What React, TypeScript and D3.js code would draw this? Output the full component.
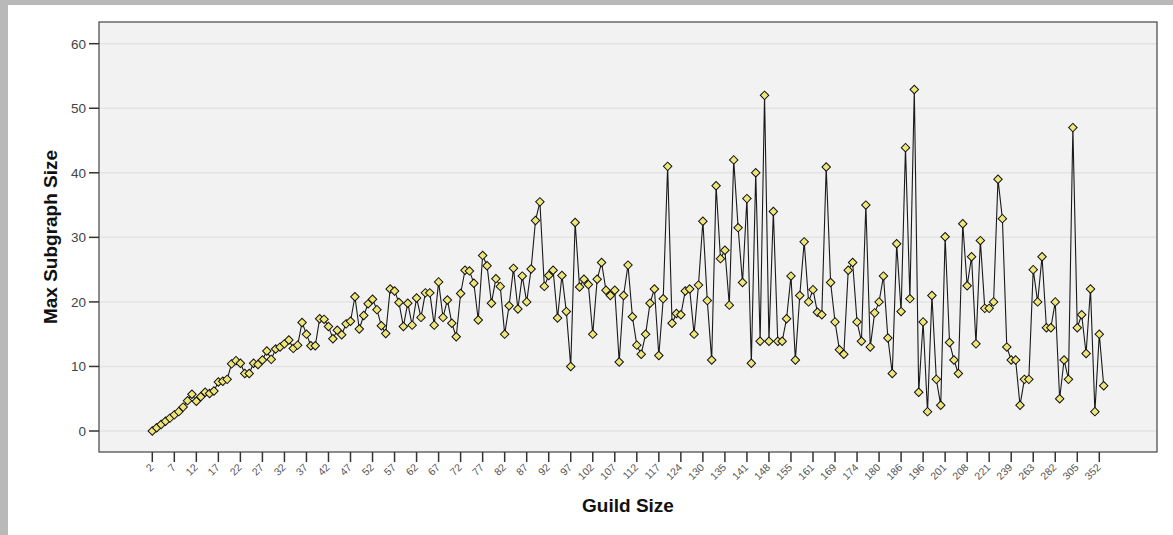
import React from "react";
import * as d3 from "d3";

// Guild size categories (x axis, ordinal)
const guildSizes: number[] = [
  2, 3, 4, 5, 6, 7, 8, 9, 10, 11, 12, 13, 14, 15, 16, 17, 18, 19, 20, 21,
  22, 23, 24, 25, 26, 27, 28, 29, 30, 31, 32, 33, 34, 35, 36, 37, 38, 39, 40, 41,
  42, 43, 44, 45, 46, 47, 48, 49, 50, 51, 52, 53, 54, 55, 56, 57, 58, 59, 60, 61,
  62, 63, 64, 65, 66, 67, 68, 69, 70, 71, 72, 73, 74, 75, 76, 77, 78, 79, 80, 81,
  82, 83, 84, 85, 86, 87, 88, 89, 90, 91, 92, 93, 94, 95, 96, 97, 98, 99, 100, 101,
  102, 103, 104, 105, 106, 107, 108, 109, 110, 111, 112, 113, 114, 115, 116, 117,
  118, 119, 121, 122, 124, 125, 126, 127, 129, 130, 131, 132, 133, 134, 135,
  136, 137, 138, 140, 141, 142, 143, 145, 146, 148, 149, 150, 152, 153, 155,
  156, 157, 158, 160, 161, 162, 164, 166, 167, 169, 170, 171, 172, 173, 174,
  175, 176, 177, 179, 180, 181, 182, 183, 185, 186, 188, 190, 192, 194, 196,
  197, 198, 199, 200, 201, 202, 204, 205, 206, 208, 210, 213, 216, 218, 221,
  225, 228, 232, 235, 239, 243, 248, 253, 258, 263, 266, 270, 274, 278, 282,
  286, 291, 295, 300, 305, 311, 318, 325, 336, 352, 421,
];

// Max subgraph size per guild size
const maxSubgraphSize: number[] = [
  0, 0.5, 1, 1.5, 2, 2.5, 3, 3.7, 4.7, 5.7,
  4.6, 5.3, 6, 5.8, 6.2, 7.6, 7.7, 8, 10.4, 10.9,
  10.5, 8.9, 8.9, 10.5, 10.3, 11, 12.4, 11.1, 12.7, 13,
  13.5, 14.1, 12.8, 13.3, 16.8, 15, 13.2, 13.2, 17.4, 17.3,
  16.2, 14.3, 15.6, 14.9, 16.6, 17, 20.8, 15.8, 17.9, 19.7,
  20.4, 18.8, 16.3, 15.1, 22, 21.7, 19.9, 16.2, 19.8, 16.4,
  20.6, 17.6, 21.4, 21.4, 16.4, 23.1, 17.6, 20.3, 16.7, 14.6,
  21.3, 24.9, 24.8, 22.9, 17.2, 27.2, 25.6, 19.8, 23.6, 22.4,
  15, 19.4, 25.2, 18.9, 24, 20, 25.1, 32.6, 35.5, 22.4,
  24.1, 24.9, 17.5, 24.1, 18.5, 10, 32.3, 22.3, 23.5, 22.7,
  15, 23.5, 26.1, 21.8, 21, 21.8, 10.7, 21, 25.7, 17.7,
  13.3, 11.9, 15, 19.8, 22, 11.7, 20.5, 41, 16.7, 18.2,
  18, 21.7, 22, 15, 22.6, 32.5, 20.2, 11, 38, 26.7,
  28, 19.5, 42, 31.5, 23, 36, 10.5, 40, 13.9, 52,
  13.9, 34, 13.9, 13.9, 17.4, 24, 11, 21, 29.3, 20,
  21.9, 18.4, 18, 40.9, 23, 16.9, 12.6, 11.9, 24.9, 26.1,
  16.9, 13.9, 35, 13, 18.3, 20, 24, 14.4, 8.9, 29,
  18.5, 43.9, 20.5, 52.9, 6, 16.9, 3, 21, 8, 4,
  30.1, 13.7, 11, 8.9, 32.1, 22.5, 27, 13.5, 29.5, 19,
  19, 20, 39, 32.9, 13, 11, 11, 4, 8, 8,
  25, 20, 27, 16, 16, 20, 5, 11, 8, 47,
  16, 18, 12, 22, 3, 15, 7,
];

const yTicks: number[] = [0, 10, 20, 30, 40, 50, 60];
const xTickEvery = 5;

const FONT = "'Liberation Sans', Arial, sans-serif";

export default function App() {
  const W = 1173;
  const H = 535;
  const plot = { left: 99, right: 1157, top: 22, bottom: 452 };

  const x = d3
    .scalePoint<number>()
    .domain(guildSizes)
    .range([plot.left, plot.right])
    .padding(12.1);

  const y = d3.scaleLinear().domain([0, 60]).range([431, 43.7]);

  const line = d3
    .line<number>()
    .x((_, i) => x(guildSizes[i]) as number)
    .y((d) => y(d));

  const diamond = d3.symbol(d3.symbolSquare, 36)() as string;

  const xTicks = guildSizes.filter((_, i) => i % xTickEvery === 0);

  return (
    <div style={{ position: "absolute", left: 0, top: 0 }}>
      <svg width={W} height={H} style={{ display: "block" }}>
        <rect x={0} y={0} width={W} height={H} fill="#b9b9b9" />
        <rect x={8} y={5} width={W - 8} height={H - 5} fill="#ffffff" />
        {/* plot background */}
        <rect
          x={plot.left}
          y={plot.top}
          width={plot.right - plot.left}
          height={plot.bottom - plot.top}
          fill="#f2f2f2"
        />
        {/* gridlines */}
        {yTicks.map((t) => (
          <line
            key={"g" + t}
            x1={plot.left}
            x2={plot.right}
            y1={y(t)}
            y2={y(t)}
            stroke="#e3e3e3"
            strokeWidth={1.5}
          />
        ))}
        {/* frame */}
        <rect
          x={plot.left}
          y={plot.top}
          width={plot.right - plot.left}
          height={plot.bottom - plot.top}
          fill="none"
          stroke="#444"
          strokeWidth={1.2}
        />
        {/* y ticks */}
        {yTicks.map((t) => (
          <g key={"yt" + t}>
            <line x1={plot.left - 10} x2={plot.left} y1={y(t)} y2={y(t)} stroke="#333" strokeWidth={1.5} />
            <text
              x={86}
              y={y(t)}
              dy="0.36em"
              textAnchor="end"
              fontFamily={FONT}
              fontSize={13.5}
              fill="#444"
            >
              {t}
            </text>
          </g>
        ))}
        {/* x ticks */}
        {xTicks.map((c) => {
          const xp = x(c) as number;
          return (
            <g key={"xt" + c}>
              <line x1={xp} x2={xp} y1={plot.bottom} y2={plot.bottom + 10} stroke="#333" strokeWidth={1.5} />
              <text
                transform={`translate(${xp + 2},${468}) rotate(-45)`}
                textAnchor="end"
                fontFamily={FONT}
                fontSize={10.5}
                fill="#555"
              >
                {c}
              </text>
            </g>
          );
        })}
        {/* series line */}
        <path d={line(maxSubgraphSize) || ""} fill="none" stroke="#1a1a1a" strokeWidth={1.1} />
        {/* markers */}
        {maxSubgraphSize.map((v, i) => (
          <path
            key={"m" + i}
            d={diamond}
            transform={`translate(${x(guildSizes[i])},${y(v)}) rotate(45)`}
            fill="#efe67a"
            stroke="#111"
            strokeWidth={1}
          />
        ))}
        {/* axis titles */}
        <text
          x={(plot.left + plot.right) / 2}
          y={512}
          textAnchor="middle"
          fontFamily={FONT}
          fontWeight="bold"
          fontSize={19}
          fill="#111"
        >
          Guild Size
        </text>
        <text
          transform={`translate(57,${(plot.top + plot.bottom) / 2}) rotate(-90)`}
          textAnchor="middle"
          fontFamily={FONT}
          fontWeight="bold"
          fontSize={19}
          fill="#111"
        >
          Max Subgraph Size
        </text>
      </svg>
    </div>
  );
}
